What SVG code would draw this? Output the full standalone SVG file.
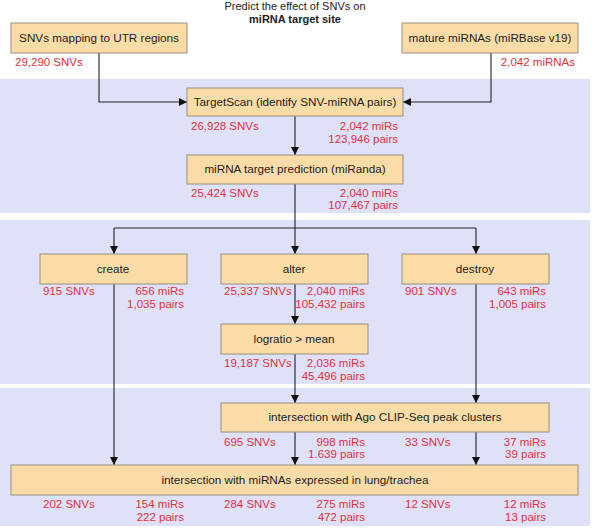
<svg xmlns="http://www.w3.org/2000/svg" width="598" height="532" viewBox="0 0 598 532">
<defs>
<style>
.band{fill:#dfe1f8}
.box rect{fill:#fcdca6;stroke:#9a8f7c;stroke-width:1}
.box text{font-family:"Liberation Sans",Arial,sans-serif;font-size:11.7px;fill:#222;text-anchor:middle}
.n{font-family:"Liberation Sans",Arial,sans-serif;font-size:11.5px;fill:#e3303b}
.r{text-anchor:end}
.t{font-family:"Liberation Sans",Arial,sans-serif;font-size:11px;fill:#222;text-anchor:middle}
.c path{fill:none;stroke:#222;stroke-width:1.1}
</style>
<marker id="ah" viewBox="0 0 10 10" refX="10" refY="5" markerWidth="8" markerHeight="8" markerUnits="userSpaceOnUse" orient="auto">
<path d="M0,0 L10,5 L0,10 z" fill="#111"/>
</marker>
</defs>
<rect width="598" height="532" fill="#fff"/>
<rect class="band" x="0" y="79" width="590" height="134"/>
<rect class="band" x="0" y="220" width="590" height="164"/>
<rect class="band" x="0" y="388" width="590" height="138"/>
<text class="t" x="295" y="10">Predict the effect of SNVs on</text>
<text class="t" x="295" y="23" font-weight="bold">miRNA target site</text>
<g class="c" id="connectors">
<path d="M99,53 V102 H187" marker-end="url(#ah)"/>
<path d="M491,53 V102 H403" marker-end="url(#ah)"/>
<path d="M295,116 V155" marker-end="url(#ah)"/>
<path d="M295,184 V254" marker-end="url(#ah)"/>
<path d="M114,228 H476"/>
<path d="M114,228 V254" marker-end="url(#ah)"/>
<path d="M476,228 V254" marker-end="url(#ah)"/>
<path d="M295,284 V324" marker-end="url(#ah)"/>
<path d="M295,354 V403" marker-end="url(#ah)"/>
<path d="M476,284 V403" marker-end="url(#ah)"/>
<path d="M114,284 V465" marker-end="url(#ah)"/>
<path d="M295,432 V465" marker-end="url(#ah)"/>
<path d="M476,432 V465" marker-end="url(#ah)"/>
</g>
<g class="box" id="utr"><rect x="11" y="23" width="176" height="30"/><text x="99" y="42">SNVs mapping to UTR regions</text></g>
<text class="n" x="15" y="66">29,290 SNVs</text>
<g class="box" id="mature"><rect x="402" y="23" width="176" height="30"/><text x="490" y="42">mature miRNAs (miRBase v19)</text></g>
<text class="n r" x="575" y="66">2,042 miRNAs</text>
<g class="box" id="targetscan"><rect x="187" y="88" width="216" height="28"/><text x="295" y="106">TargetScan (identify SNV-miRNA pairs)</text></g>
<text class="n" x="191" y="130">26,928 SNVs</text>
<text class="n r" x="398" y="130">2,042 miRs</text>
<text class="n r" x="398" y="143">123,946 pairs</text>
<g class="box" id="miranda"><rect x="187" y="155" width="216" height="29"/><text x="295" y="173">miRNA target prediction (miRanda)</text></g>
<text class="n" x="191" y="197">25,424 SNVs</text>
<text class="n r" x="398" y="197">2,040 miRs</text>
<text class="n r" x="398" y="209">107,467 pairs</text>
<g class="box" id="create"><rect x="40" y="254" width="147" height="30"/><text x="113" y="273">create</text></g>
<text class="n" x="43" y="295">915 SNVs</text>
<text class="n r" x="184" y="295">656 miRs</text>
<text class="n r" x="184" y="308">1,035 pairs</text>
<g class="box" id="alter"><rect x="221" y="254" width="147" height="30"/><text x="294" y="273">alter</text></g>
<text class="n" x="224" y="295">25,337 SNVs</text>
<text class="n r" x="365" y="295">2,040 miRs</text>
<text class="n r" x="365" y="308">105,432 pairs</text>
<g class="box" id="destroy"><rect x="402" y="254" width="147" height="30"/><text x="475" y="273">destroy</text></g>
<text class="n" x="405" y="295">901 SNVs</text>
<text class="n r" x="546" y="295">643 miRs</text>
<text class="n r" x="546" y="308">1,005 pairs</text>
<g class="box" id="logratio"><rect x="221" y="324" width="147" height="30"/><text x="294" y="343">logratio &gt; mean</text></g>
<text class="n" x="224" y="367">19,187 SNVs</text>
<text class="n r" x="365" y="367">2,036 miRs</text>
<text class="n r" x="365" y="380">45,496 pairs</text>
<g class="box" id="ago"><rect x="221" y="403" width="328" height="29"/><text x="385" y="421">intersection with Ago CLIP-Seq peak clusters</text></g>
<text class="n" x="224" y="446">695 SNVs</text>
<text class="n r" x="365" y="446">998 miRs</text>
<text class="n r" x="365" y="458">1.639 pairs</text>
<text class="n" x="405" y="446">33 SNVs</text>
<text class="n r" x="546" y="446">37 miRs</text>
<text class="n r" x="546" y="458">39 pairs</text>
<g class="box" id="lung"><rect x="11" y="465" width="567" height="30"/><text x="295" y="484">intersection with miRNAs expressed in lung/trachea</text></g>
<text class="n" x="43" y="508">202 SNVs</text>
<text class="n r" x="184" y="508">154 miRs</text>
<text class="n r" x="184" y="521">222 pairs</text>
<text class="n" x="224" y="508">284 SNVs</text>
<text class="n r" x="365" y="508">275 miRs</text>
<text class="n r" x="365" y="521">472 pairs</text>
<text class="n" x="405" y="508">12 SNVs</text>
<text class="n r" x="546" y="508">12 miRs</text>
<text class="n r" x="546" y="521">13 pairs</text>
</svg>
